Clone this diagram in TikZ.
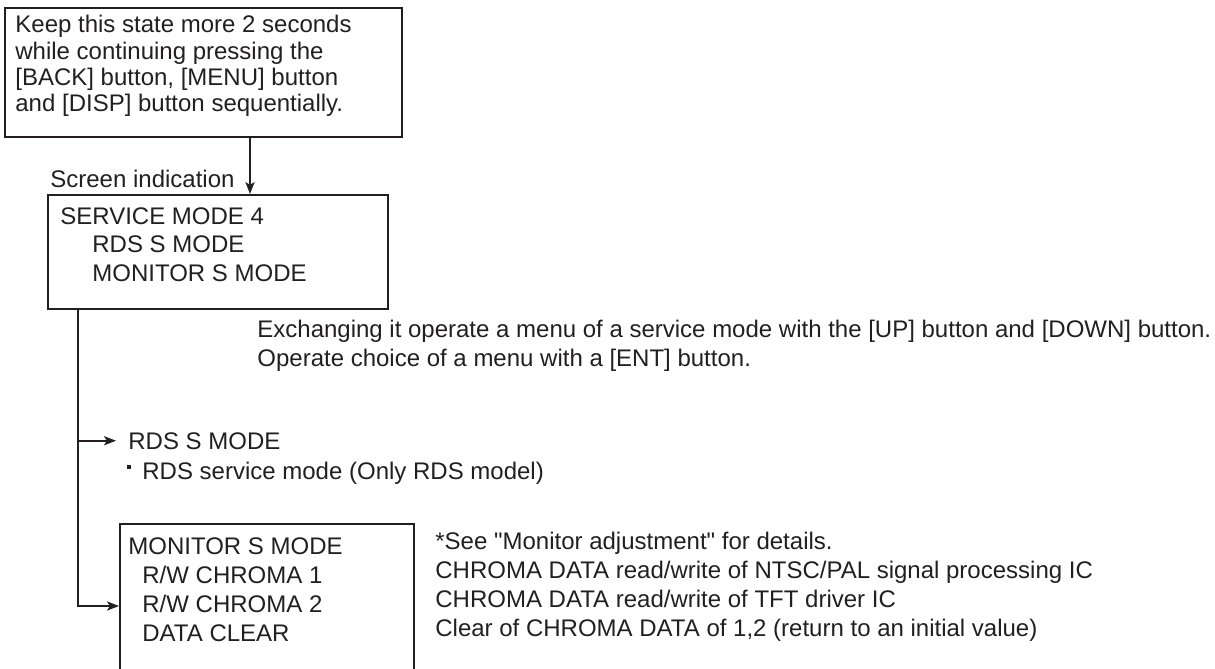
\documentclass[tikz,border=0pt]{standalone}
\usepackage{fontspec}
\setmainfont{Liberation Sans}
\usetikzlibrary{arrows.meta,positioning,calc}
\definecolor{ink}{RGB}{35,31,32}
\tikzset{
  frame/.style={draw=ink, line width=0.8pt, anchor=north west, inner sep=0pt},
  note/.style={anchor=north west, inner sep=0pt, align=left, text=ink,
    font=\fontsize{12}{14.5}\selectfont},
  line/.style={draw=ink, line width=0.8pt, -{Stealth[length=6pt,width=4.6pt,inset=1.5pt]}}
}
\begin{document}
\begin{tikzpicture}[x=0.5pt, y=-0.5pt]
  \useasboundingbox (0,0) rectangle (1215,669);
  % boxes
  \node[frame, minimum width=198.5pt, minimum height=64.5pt] (keep) at (4,7) {};
  \node[frame, minimum width=170pt, minimum height=57pt] (svc) at (47,194) {};
  \node[frame, minimum width=147pt, minimum height=80pt] (mon) at (119,523) {};
  % texts
  \node[note, font=\fontsize{12}{13.15}\selectfont] (keeptxt) at ($(keep.north west)+(11,8)$)
    {Keep this state more 2 seconds\\while continuing pressing the\\{}[BACK] button, [MENU] button\\and [DISP] button sequentially.};
  \node[note, font=\fontsize{12}{14.25}\selectfont] (svctxt) at ($(svc.north west)+(13,13)$)
    {SERVICE MODE 4\\\hspace*{16pt}RDS S MODE\\\hspace*{16pt}MONITOR S MODE};
  \node[note, anchor=base west] (screen) at (50,187) {Screen indication};
  \node[note] (menu) at (257,320)
    {Exchanging it operate a menu of a service mode with the [UP] button and [DOWN] button.\\Operate choice of a menu with a [ENT] button.};
  \node[note, anchor=base west, inner xsep=6pt] (rds) at (116,449) {RDS S MODE};
  \node[note, anchor=base west] (rdsnote) at (127,479)
    {\rule[5pt]{2pt}{2pt}\hspace{5.5pt}RDS service mode (Only RDS model)};
  \node[note] (montxt) at ($(mon.north west)+(9,14)$)
    {MONITOR S MODE\\\hspace*{7pt}R/W CHROMA 1\\\hspace*{7pt}R/W CHROMA 2\\\hspace*{7pt}DATA CLEAR};
  \node[note] (monnote) at (435,532)
    {*See \textquotedbl Monitor adjustment\textquotedbl{} for details.\\CHROMA DATA read/write of NTSC/PAL signal processing IC\\CHROMA DATA read/write of TFT driver IC\\Clear of CHROMA DATA of 1,2 (return to an initial value)};
  % connectors
  \coordinate (drop) at ($(svc.north west)+(203,0)$);
  \coordinate (trunk) at (78,0);
  \coordinate (monin) at ($(mon.north west)+(0,83)$);
  \draw[line] (keep.south -| drop) -- (drop);
  \draw[line] (trunk |- svc.south) |- (rds.west);
  \draw[line] (trunk |- svc.south) |- (monin);
\end{tikzpicture}
\end{document}
